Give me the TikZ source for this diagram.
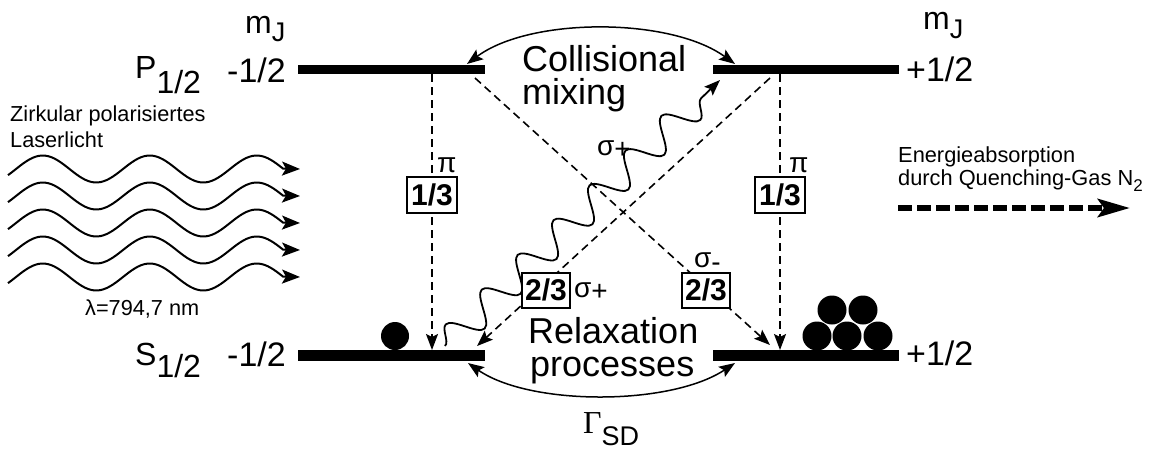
\documentclass[tikz,border=0pt]{standalone}
\usepackage{fontspec}
\setmainfont{Liberation Sans}
\newfontfamily\serifgreek{Liberation Serif}
\usetikzlibrary{arrows.meta,decorations.pathmorphing}
\newcommand{\fsz}[1]{\fontsize{#1}{#1}\selectfont}
\begin{document}
\begin{tikzpicture}[x=1pt,y=-1pt,
  topbar/.style={line width=9pt},
  botbar/.style={line width=11pt},
  dashline/.style={line width=1.6pt,dash pattern=on 8pt off 5pt,-{Stealth[length=16pt,width=12pt,inset=3pt]}},
  fracbox/.style={draw,line width=2pt,fill=white,minimum width=50pt,minimum height=36pt,inner sep=0pt,font=\fsz{30}\bfseries},
  lbl/.style={inner sep=0pt,anchor=base west},
  bendarrow/.style={line width=1.5pt,{Stealth[length=16pt,width=12pt,inset=3pt]}-{Stealth[length=16pt,width=12pt,inset=3pt]}},
  laser/.style={line width=2pt,-{Stealth[length=18pt,width=14pt,inset=4pt]}},
  photon/.style={line width=1.8pt,-{Stealth[length=16pt,width=12pt,inset=3pt]},decorate,
     decoration={snake,amplitude=15pt,segment length=50pt,post length=16pt}},
  quench/.style={line width=6pt,dash pattern=on 14pt off 5pt,-{Stealth[length=32pt,width=18pt,inset=6pt]}},
  midtext/.style={inner sep=0pt,anchor=base west,align=left,font={\fontsize{36}{32.5}\selectfont}}
]
\useasboundingbox (0,0) rectangle (1150,450);

% energy levels
\draw[topbar] (298,69.5) -- (485,69.5);
\draw[topbar] (713,69.5) -- (899,69.5);
\draw[botbar] (298,355.5) -- (485,355.5);
\draw[botbar] (713,355.5) -- (899,355.5);

% coordinates for transitions
\coordinate (pl1) at (432,74);  \coordinate (sl1) at (432,350);
\coordinate (pr1) at (780,74);  \coordinate (sr1) at (780,350);
\coordinate (pl2) at (475,78);  \coordinate (sr2) at (770,345);
\coordinate (pr2) at (770,78);  \coordinate (sl2) at (477,346);
\coordinate (w0) at (445,346);  \coordinate (w1) at (720,80);
\coordinate (ta) at (467,64);   \coordinate (tb) at (735,64);
\coordinate (ba) at (468,363);  \coordinate (bb) at (735,363);
\coordinate (q0) at (898,208);  \coordinate (q1) at (1130,208);

% dashed transitions
\draw[dashline] (pl1) -- (sl1);
\draw[dashline] (pr1) -- (sr1);
\draw[dashline] (pl2) -- (sr2);
\draw[dashline] (pr2) -- (sl2);

% photon
\draw[photon] (w0) -- (w1);

% bent arrows
\draw[bendarrow] (ta) .. controls (530,17) and (670,17) .. (tb);
\draw[bendarrow] (ba) .. controls (530,406) and (670,406) .. (bb);

% boxes
\node[fracbox] (b1) at (432,195) {1/3};
\node[fracbox] (b2) at (780,195) {1/3};
\node[fracbox,minimum width=48pt,minimum height=35pt] (b3) at (546,290) {2/3};
\node[fracbox,minimum width=48pt,minimum height=35pt] (b4) at (706,290) {2/3};

% polarisation labels
\node[lbl,font=\fsz{28}] (pi1) at (437,172) {π};
\node[lbl,font=\fsz{28}] (pi2) at (789,172) {π};
\node[lbl,font=\fsz{28}] (sp1) at (597,155) {σ\raisebox{-3pt}{+}};
\node[lbl,font=\fsz{28}] (sp2) at (574,297) {σ\raisebox{-3pt}{+}};
\node[lbl,font=\fsz{28}] (sm) at (694,267) {σ\raisebox{-4pt}{-}};

% population
\fill (395,336) circle (14pt);
\fill (817,336) circle (14.5pt);
\fill (847,336) circle (14.5pt);
\fill (878,336) circle (14.5pt);
\fill (832,310) circle (14.5pt);
\fill (863,310) circle (14.5pt);

% level labels
\node[lbl,font=\fsz{32}] (mjl) at (245,33) {m\raisebox{-8pt}{\fsz{27}J}};
\node[lbl,font=\fsz{32}] (mjr) at (923,29) {m\raisebox{-9pt}{\fsz{27}J}};
\node[lbl,font=\fsz{32}] (P) at (135,78) {P\raisebox{-15pt}{1/2}};
\node[lbl,font=\fsz{34}] (pm) at (227,82) {-1/2};
\node[lbl,font=\fsz{34}] (pp) at (906,81) {+1/2};
\node[lbl,font=\fsz{32}] (S) at (135,365) {S\raisebox{-12pt}{1/2}};
\node[lbl,font=\fsz{34}] (sm2) at (227,366) {-1/2};
\node[lbl,font=\fsz{34}] (sp3) at (906,365) {+1/2};

% middle texts
\node[midtext] (coll) at (522,104) {Collisional\\mixing};
\node[midtext] (rel) at (528,376) {Relaxation\\\hspace*{2pt}processes};
\node[lbl] (gam) at (583,433) {{\serifgreek\fsz{32}Γ}\raisebox{-12pt}{\fsz{27}SD}};

% laser light
\node[lbl,font=\fsz{21.7}] (zk) at (10,121) {Zirkular polarisiertes};
\node[lbl,font=\fsz{21.7}] (ll) at (10,147) {Laserlicht};
\foreach \c in {169,196,223,250,277}{
  \draw[laser] plot[domain=8:283,samples=90,smooth] (\x,{\c-13.5*sin(3.3645*(\x-16))}) -- (300,\c);
}
\node[lbl,font=\fsz{21.7}] (lam) at (85,315) {λ=794,7 nm};

% quenching
\node[lbl,font=\fsz{21.8}] (en) at (898,162) {Energieabsorption};
\node[lbl,font=\fsz{21.8}] (dq) at (898,185) {durch Quenching-Gas N\raisebox{-6pt}{\fsz{17}2}};
\draw[quench] (q0) -- (q1);
\end{tikzpicture}
\end{document}
